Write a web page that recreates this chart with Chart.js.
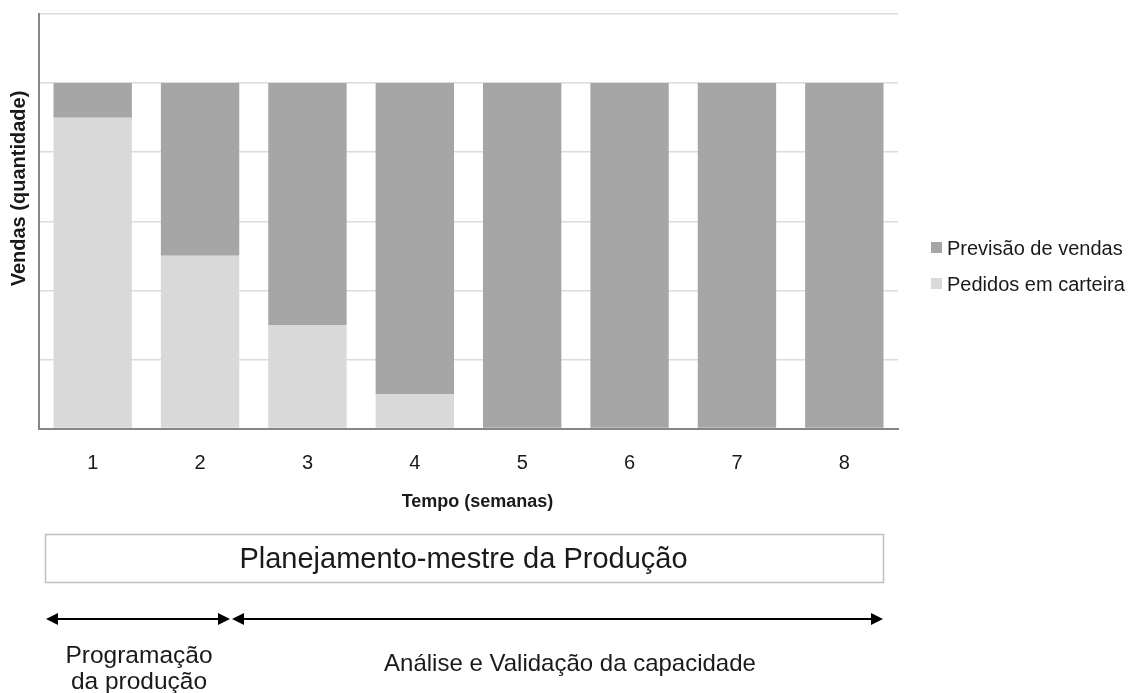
<!DOCTYPE html>
<html><head><meta charset="utf-8">
<script src="https://cdn.jsdelivr.net/npm/chart.js@4"></script>
<style>html,body{margin:0;padding:0;background:#fff;overflow:hidden;}</style>
</head><body>
<canvas id="c" width="1128" height="693"></canvas>
<script>
const categories = ['1','2','3','4','5','6','7','8'];
const pedidosEmCarteira = [4.5, 2.5, 1.5, 0.5, 0, 0, 0, 0];
const previsaoDeVendas = [0.5, 2.5, 3.5, 4.5, 5, 5, 5, 5];
const yMin = 0, yMax = 6, yStep = 1;
const seriesLabels = ['Pedidos em carteira', 'Previsão de vendas'];
const seriesColors = ['#d9d9d9', '#a6a6a6'];
const axisTitleX = 'Tempo (semanas)';
const axisTitleY = 'Vendas (quantidade)';
const boxText = 'Planejamento-mestre da Produção';
const phaseLeft = ['Programação', 'da produção'];
const phaseRight = 'Análise e Validação da capacidade';

const FONT = "'Liberation Sans', Arial, sans-serif";
const TEXT = '#1a1a1a';

function arrow(ctx, x1, x2, y) {
  const hl = 12, hw = 6;
  ctx.save();
  ctx.strokeStyle = '#000'; ctx.fillStyle = '#000'; ctx.lineWidth = 2;
  ctx.beginPath(); ctx.moveTo(x1 + hl - 1, y); ctx.lineTo(x2 - hl + 1, y); ctx.stroke();
  ctx.beginPath(); ctx.moveTo(x1, y); ctx.lineTo(x1 + hl, y - hw); ctx.lineTo(x1 + hl, y + hw); ctx.closePath(); ctx.fill();
  ctx.beginPath(); ctx.moveTo(x2, y); ctx.lineTo(x2 - hl, y - hw); ctx.lineTo(x2 - hl, y + hw); ctx.closePath(); ctx.fill();
  ctx.restore();
}

const extras = {
  id: 'extras',
  afterDraw(chart) {
    const ctx = chart.ctx;
    ctx.save();
    // y axis title
    ctx.save();
    ctx.translate(19, 188.5);
    ctx.rotate(-Math.PI / 2);
    ctx.font = 'bold 20px ' + FONT;
    ctx.fillStyle = TEXT; ctx.textAlign = 'center'; ctx.textBaseline = 'middle';
    ctx.fillText(axisTitleY, 0, 0);
    ctx.restore();

    // x axis title
    ctx.font = 'bold 18px ' + FONT;
    ctx.fillStyle = TEXT; ctx.textAlign = 'center'; ctx.textBaseline = 'middle';
    ctx.fillText(axisTitleX, 477.5, 502);

    // legend (reverse order, like the reference)
    const ds = chart.data.datasets;
    const order = [1, 0];
    ctx.font = '20px ' + FONT;
    ctx.textAlign = 'left'; ctx.textBaseline = 'alphabetic';
    order.forEach((i, k) => {
      const baseY = 255 + k * 36;
      ctx.fillStyle = ds[i].backgroundColor;
      ctx.fillRect(931, baseY - 13, 11, 11);
      ctx.fillStyle = TEXT;
      ctx.fillText(ds[i].label, 947, baseY);
    });

    // box
    ctx.strokeStyle = '#bfbfbf'; ctx.lineWidth = 1.5;
    ctx.strokeRect(45.5, 534.5, 838, 48);
    ctx.fillStyle = TEXT;
    ctx.font = '29px ' + FONT;
    ctx.textAlign = 'center';
    ctx.fillText(boxText, 463.5, 568);

    // arrows
    arrow(ctx, 46, 230, 619);
    arrow(ctx, 232, 883, 619);

    // phase labels
    ctx.font = '24.5px ' + FONT;
    ctx.fillStyle = TEXT;
    ctx.fillText(phaseLeft[0], 139, 663);
    ctx.fillText(phaseLeft[1], 139, 689);
    ctx.font = '24px ' + FONT;
    ctx.fillText(phaseRight, 570, 671);
    ctx.restore();
  }
};

new Chart(document.getElementById('c'), {
  type: 'bar',
  data: {
    labels: categories,
    datasets: [
      { label: seriesLabels[0], data: pedidosEmCarteira, backgroundColor: seriesColors[0], borderWidth: 0 },
      { label: seriesLabels[1], data: previsaoDeVendas, backgroundColor: seriesColors[1], borderWidth: 0 }
    ]
  },
  options: {
    responsive: false,
    animation: false,
    devicePixelRatio: 1,
    layout: { padding: { left: 0, top: 14, right: 230, bottom: 0 } },
    datasets: { bar: { categoryPercentage: 1, barPercentage: 0.73 } },
    plugins: { legend: { display: false }, tooltip: { enabled: false } },
    scales: {
      x: {
        stacked: true,
        grid: { display: false, drawTicks: false },
        border: { display: true, color: '#868686', width: 2 },
        ticks: { color: TEXT, font: { family: FONT, size: 20 }, padding: 23 },
        title: { display: false },
        afterFit(scale) { scale.height = 693 - 428.5; }
      },
      y: {
        stacked: true,
        min: yMin, max: yMax,
        ticks: { stepSize: yStep, display: false },
        grid: { color: '#dcdcdc', lineWidth: 1.5, drawTicks: false },
        border: { display: true, color: '#868686', width: 2 },
        title: { display: false },
        afterFit(scale) { scale.width = 39; }
      }
    }
  },
  plugins: [extras]
});
</script>
</body></html>
